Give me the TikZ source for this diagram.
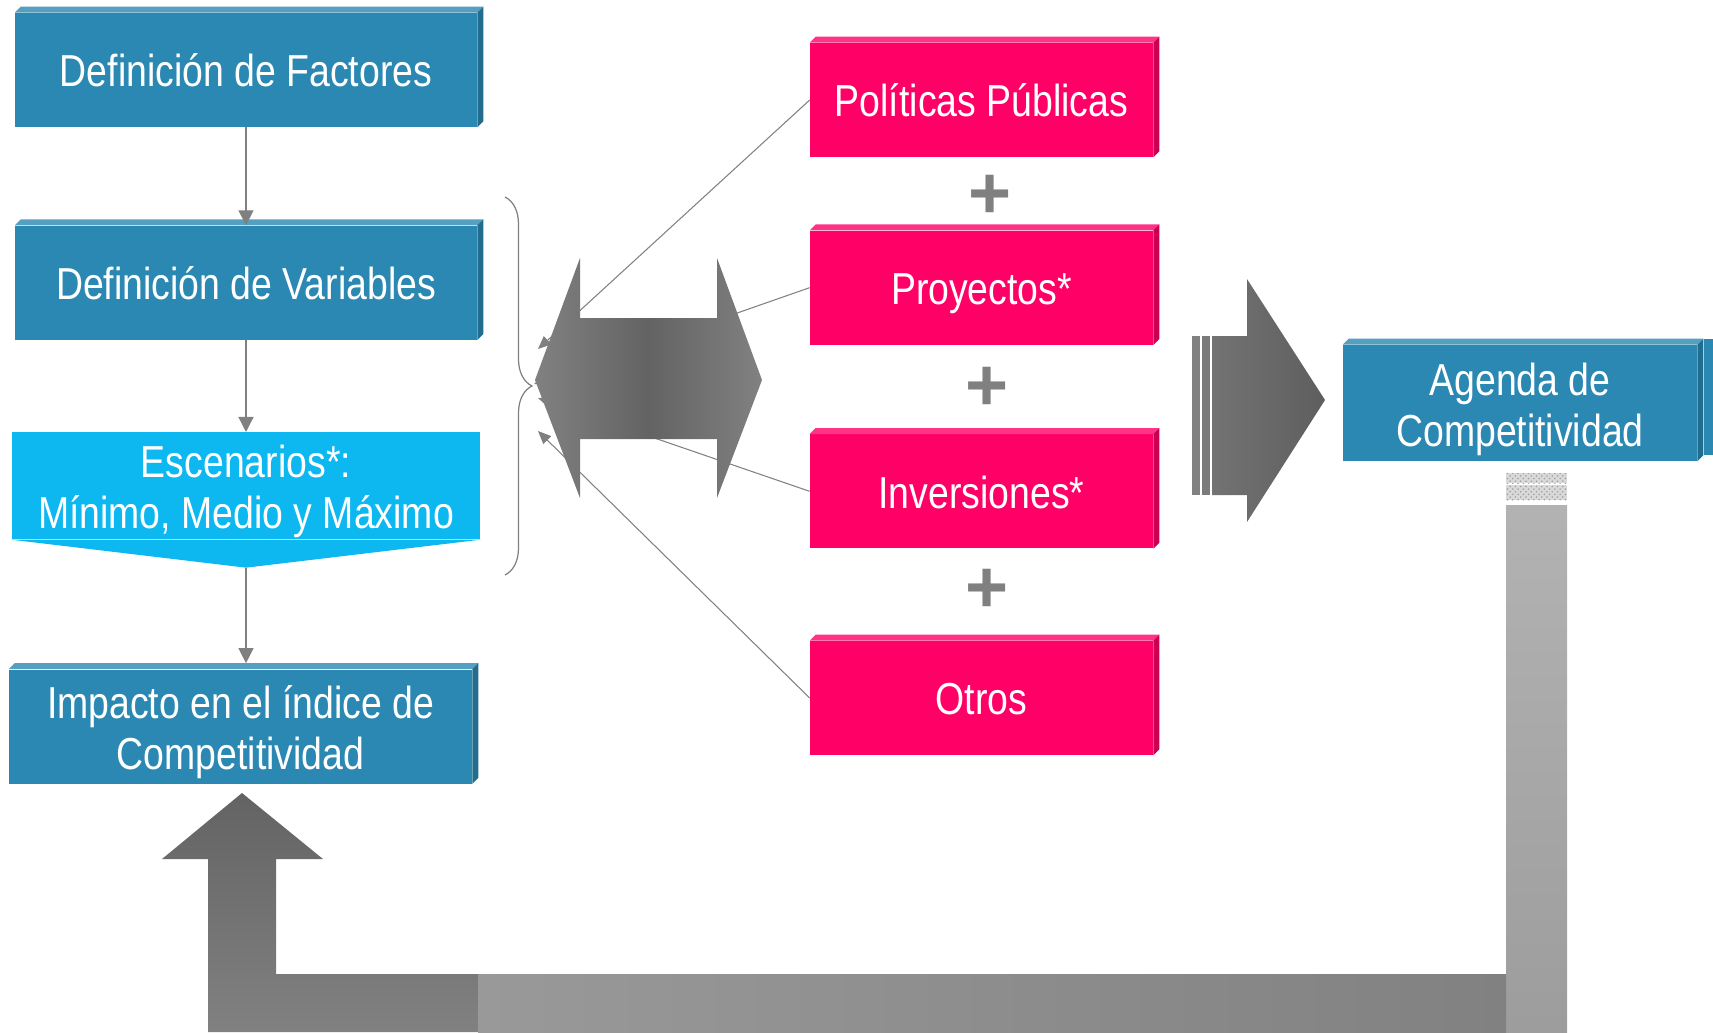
\documentclass[tikz,border=0pt]{standalone}
\usepackage{fontspec}
\setmainfont{Liberation Sans}[FakeStretch=0.835]
\newfontfamily\plusfont{Liberation Sans}
\usetikzlibrary{arrows.meta, positioning, calc, decorations.pathreplacing, patterns}
\definecolor{boxblue}{HTML}{2B88B2}
\definecolor{sceneblue}{HTML}{0DB7F0}
\definecolor{hotpink}{HTML}{FF0066}
\definecolor{linegray}{HTML}{808080}
\definecolor{arrowgray}{HTML}{818181}
\definecolor{shadegray}{HTML}{636363}

\begin{document}
\begin{tikzpicture}[x=0.02cm, y=-0.02cm, font=\fontsize{25.5}{29}\selectfont,
    stepbox/.style={rectangle, minimum width=9.24cm, minimum height=2.28cm, inner sep=0pt,
      text=white, align=center, fill=boxblue, text height=19pt, text depth=0pt},
    pinkbox/.style={rectangle, minimum width=6.86cm, minimum height=2.28cm, inner sep=0pt,
      text=white, align=center, fill=hotpink, text height=19pt, text depth=0pt},
    twoline/.style={text height=49pt, text depth=0pt},
    flow/.style={-{Triangle[length=0.3cm, width=0.3cm]}, linegray, line width=0.7pt},
    feed/.style={-{Triangle[length=0.26cm, width=0.22cm]}, linegray, line width=0.6pt},
    plussign/.style={text=linegray, inner sep=0pt, font=\plusfont\fontsize{42}{42}\selectfont\bfseries}]

    \useasboundingbox (0,0) rectangle (1713,1032);

    % left column
    \node (fact) [stepbox] at (246,70) {Definición de Factores};
    \node (vari) [stepbox, below=1.96cm of fact] {Definición de Variables};
    \node (esc) [stepbox, twoline, fill=sceneblue, minimum width=9.38cm, minimum height=2.14cm,
      below=1.84cm of vari] {Escenarios*:\\Mínimo, Medio y Máximo};
    \coordinate (escpt) at ($(esc.south)+(0,28)$);
    \fill [sceneblue] (esc.south west) -- (escpt) -- (esc.south east) -- cycle;
    \node (imp) [stepbox, twoline, minimum width=9.26cm] at (240.5,726.5)
      {Impacto en el índice de\\Competitividad};

    % middle column
    \node (pol) [pinkbox] at (981.5,100) {Políticas Públicas};
    \node (pro) [pinkbox, below=1.46cm of pol] {Proyectos*};
    \node (inv) [pinkbox, below=1.78cm of pro] {Inversiones*};
    \node (otr) [pinkbox, below=1.84cm of inv] {Otros};

    \node (plusA) [plussign] at (990,197) {+};
    \node (plusB) [plussign] at (987,389) {+};
    \node (plusC) [plussign] at (987,591) {+};

    % right box
    \fill [boxblue] (1704,339) rectangle (1713,455);
    \node (agenda) [stepbox, twoline, minimum width=7.08cm, minimum height=2.32cm] at (1520,403)
      {Agenda de\\Competitividad};

    % 3d edges
    \foreach \n/\c in {fact/boxblue, vari/boxblue, imp/boxblue, agenda/boxblue,
        pol/hotpink, pro/hotpink, inv/hotpink, otr/hotpink} {
      \fill [fill=\c!80!white] (\n.north west) -- ++(6,-6) -- ($(\n.north east)+(6,-6)$)
        -- (\n.north east) -- cycle;
      \fill [fill=\c!80!black] (\n.north east) -- ++(6,-6) -- ($(\n.south east)+(6,-6)$)
        -- (\n.south east) -- cycle;
    }

    \draw [flow] (fact) -- (vari);
    \draw [flow] (vari) -- (esc);
    \draw [flow] (escpt) -- ($(escpt |- imp.north)+(0,-6)$);

    % brace and feeding lines
    \draw [linegray, line width=0.7pt, decorate, decoration={brace, amplitude=0.54cm}]
      (505,197) -- (505,575);
    \coordinate (hitA) at (538,349);
    \coordinate (hitB) at (534,384);
    \coordinate (hitC) at (538,398);
    \coordinate (hitD) at (538,431);
    \draw [feed] (pol.west) -- (hitA);
    \draw [feed] (pro.west) -- (hitB);
    \draw [feed] (inv.west) -- (hitC);
    \draw [feed] (otr.west) -- (hitD);

    % block arrows
    \shade [left color=arrowgray, right color=arrowgray, middle color=shadegray]
      (535,380) -- (580,258) -- (580,318) -- (717,318) -- (717,258) -- (762,380)
      -- (717,498) -- (717,439) -- (580,439) -- (580,498) -- cycle;
    \fill [arrowgray] (1192,336) rectangle (1200,495);
    \fill [arrowgray!95!black] (1202,336) rectangle (1210,495);
    \shade [left color=gray!90!black, right color=shadegray!95!black]
      (1212,336) -- (1247,336) -- (1247,279) -- (1325,400) -- (1247,522)
      -- (1247,495) -- (1212,495) -- cycle;

    % feedback path
    \fill [gray!30] (1506,473) rectangle (1567,483);
    \fill [gray!30] (1506,485) rectangle (1567,500);
    \fill [pattern=crosshatch dots, pattern color=gray!75] (1506,473) rectangle (1567,483);
    \fill [pattern=crosshatch dots, pattern color=gray!75] (1506,485) rectangle (1567,500);
    \shade [top color=gray!60, bottom color=gray!77] (1506,505) rectangle (1567,1032);
    \shade [left color=gray!80, right color=arrowgray] (478,974) rectangle (1506,1032);
    \shade [top color=shadegray, bottom color=arrowgray]
      (242,793) -- (323,859) -- (276,859) -- (276,974) -- (478,974) -- (478,1032)
      -- (208,1032) -- (208,859) -- (162,859) -- cycle;
\end{tikzpicture}
\end{document}
